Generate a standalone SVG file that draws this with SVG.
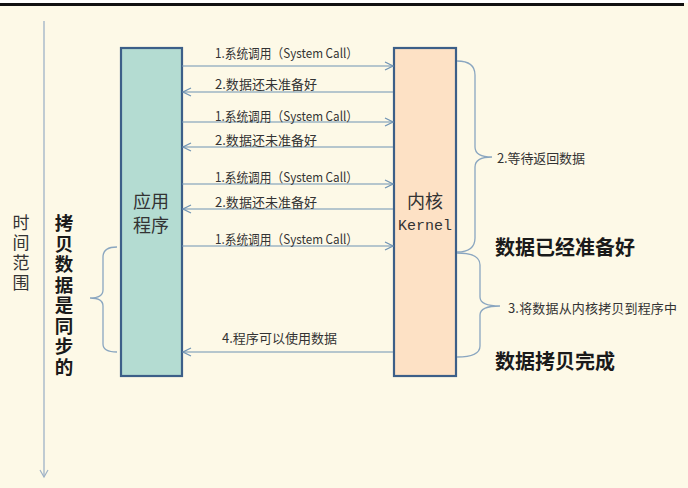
<svg xmlns="http://www.w3.org/2000/svg" width="688" height="488" viewBox="0 0 688 488">
  <defs>
    <marker id="chev" viewBox="0 0 10 10" refX="9" refY="5" markerWidth="10" markerHeight="10" markerUnits="userSpaceOnUse" orient="auto">
      <path d="M1,1 L9,5 L1,9" fill="none" stroke="#6f93b3" stroke-width="1.2"/>
    </marker>
    <style>
      .msg { stroke: #6f93b3; stroke-width: 1.2; fill: none; marker-end: url(#chev); }
      .brace { stroke: #8aa6c0; stroke-width: 1.3; fill: none; }
      .lbl { font-family: "Noto Sans CJK SC", "Liberation Sans", sans-serif; font-size: 13px; fill: #333; }
      .big { font-family: "Noto Sans CJK SC", sans-serif; font-size: 20px; font-weight: bold; fill: #1a1a1a; }
      .box { stroke: #3c5f88; stroke-width: 2.2; }
      .boxtxt { font-family: "Noto Sans CJK SC", sans-serif; font-size: 18px; fill: #333; text-anchor: middle; }
      .vert { font-family: "Noto Sans CJK SC", sans-serif; writing-mode: vertical-rl; text-orientation: upright; }
    </style>
  </defs>

  <!-- page background and top rule -->
  <rect x="0" y="0" width="688" height="488" fill="#fdf9e7"/>
  <rect x="0" y="0" width="688" height="3" fill="#ffffff"/>
  <rect x="0" y="3" width="684" height="3" fill="#111111"/>

  <!-- time axis -->
  <g id="time-axis">
    <line x1="44" y1="21" x2="44" y2="477" stroke="#9fb2c6" stroke-width="1.3"/>
    <path d="M40,470 L44,477 L48,470" fill="none" stroke="#9fb2c6" stroke-width="1.2"/>
    <text class="vert" x="21" y="214" font-size="17" letter-spacing="3" fill="#333">时间范围</text>
  </g>

  <!-- synchronous copy note -->
  <g id="sync-note">
    <text class="vert" x="64" y="214" font-size="18.5" font-weight="bold" letter-spacing="2" fill="#1a1a1a">拷贝数据是同步的</text>
    <path class="brace" d="M117,247 Q103,247 103,257 L103,290 Q103,298 90,298 Q103,298 103,306 L103,344 Q103,352 117,352"/>
  </g>

  <!-- application -->
  <g id="app">
    <rect class="box" x="121" y="48" width="61" height="328" fill="#b4dcd2"/>
    <text class="boxtxt" x="151" y="208">应用</text>
    <text class="boxtxt" x="151" y="232">程序</text>
  </g>

  <!-- kernel -->
  <g id="kernel">
    <rect class="box" x="394" y="48" width="62" height="328" fill="#fde1c5"/>
    <text class="boxtxt" x="425" y="208" font-size="19">内核</text>
    <text x="425" y="230" font-family="Liberation Mono, monospace" font-size="15" fill="#333" text-anchor="middle">Kernel</text>
  </g>

  <!-- messages between application and kernel -->
  <g id="connectors">
    <line class="msg" x1="182" y1="66" x2="393" y2="66"/>
    <line class="msg" x1="393" y1="92" x2="183" y2="92"/>
    <line class="msg" x1="182" y1="122" x2="393" y2="122"/>
    <line class="msg" x1="393" y1="147" x2="183" y2="147"/>
    <line class="msg" x1="182" y1="184" x2="393" y2="184"/>
    <line class="msg" x1="393" y1="209" x2="183" y2="209"/>
    <line class="msg" x1="182" y1="246" x2="393" y2="246"/>
    <line class="msg" x1="393" y1="352" x2="183" y2="352"/>

    <text class="lbl" x="215" y="58" textLength="143" lengthAdjust="spacingAndGlyphs">1.系统调用（System Call）</text>
    <text class="lbl" x="215" y="89" textLength="102">2.数据还未准备好</text>
    <text class="lbl" x="215" y="121" textLength="143" lengthAdjust="spacingAndGlyphs">1.系统调用（System Call）</text>
    <text class="lbl" x="215" y="145" textLength="102">2.数据还未准备好</text>
    <text class="lbl" x="215" y="182" textLength="143" lengthAdjust="spacingAndGlyphs">1.系统调用（System Call）</text>
    <text class="lbl" x="215" y="207" textLength="102">2.数据还未准备好</text>
    <text class="lbl" x="215" y="244" textLength="143" lengthAdjust="spacingAndGlyphs">1.系统调用（System Call）</text>
    <text class="lbl" x="222" y="343" textLength="115">4.程序可以使用数据</text>
  </g>

  <!-- kernel-side phases -->
  <g id="wait-phase">
    <path class="brace" d="M457,61 Q475,61 475,75 L475,147 Q475,157 492,157 Q475,157 475,167 L475,238 Q475,252 457,252"/>
    <text class="lbl" x="497" y="163" textLength="88">2.等待返回数据</text>
  </g>
  <g id="copy-phase">
    <path class="brace" d="M457,253 Q480,253 480,265 L480,297 Q480,306 500,306 Q480,306 480,315 L480,346 Q480,357 457,357"/>
    <text class="lbl" x="508" y="313" textLength="169">3.将数据从内核拷贝到程序中</text>
  </g>
  <text class="big" x="495" y="255">数据已经准备好</text>
  <text class="big" x="495" y="369">数据拷贝完成</text>
</svg>
